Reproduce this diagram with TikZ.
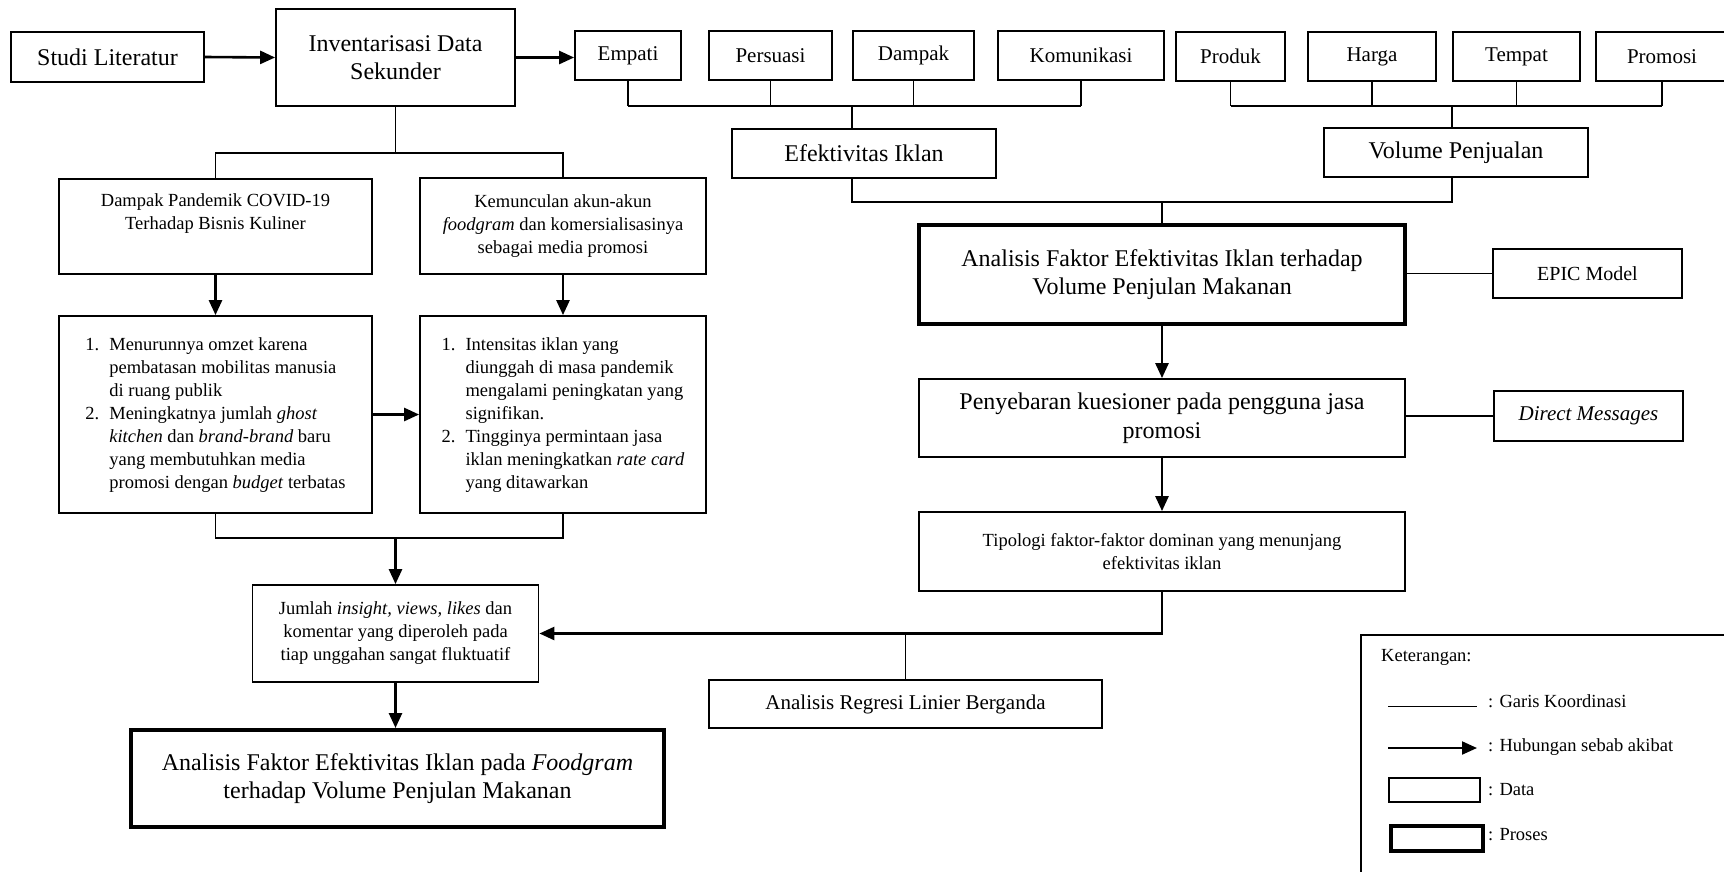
\documentclass[tikz,border=0pt]{standalone}
\usepackage{fontspec}
\setmainfont{Liberation Serif}
\usetikzlibrary{arrows.meta}

\begin{document}
\begin{tikzpicture}[x=1pt,y=-1pt,
    kotak/.style={draw,line width=1.8pt,inner sep=0pt,align=center,font=\fontsize{24}{28.5}\selectfont},
    kotaktebal/.style={kotak,line width=4pt},
    kecil/.style={font=\fontsize{21}{25}\selectfont},
    sedang/.style={font=\fontsize{18.5}{23}\selectfont},
    ket/.style={anchor=west,inner sep=0pt,font=\fontsize{18.5}{22}\selectfont},
    garis/.style={line width=1.2pt},
    panah/.style={line width=2.6pt,-{Triangle[length=15pt,width=13pt]}}]
    \useasboundingbox (0,0) rectangle (1724,871);

    \coordinate (busL) at (852,106);
    \coordinate (busR) at (1452,106);
    \coordinate (busB) at (1162,202);
    \coordinate (cabang) at (395.5,153);
    \coordinate (gabung) at (395.5,538);

    \node [kotak,minimum width=193,minimum height=50] (studi) at (107.5,57) {Studi Literatur};
    \node [kotak,minimum width=239,minimum height=97] (inv) at (395.5,57.5) {Inventarisasi Data\\Sekunder};
    \draw [panah] (studi.east) -- (inv.west);

    \foreach \nama/\cx/\lebar/\teks in {empati/628/106/Empati,persuasi/770.5/123/Persuasi,dampak/913.5/121/Dampak,komunikasi/1081/166/Komunikasi} {
        \node [kotak,kecil,minimum width=\lebar,minimum height=49] (\nama) at (\cx,55.5) {\teks};
        \draw [garis] (\nama.south) -- (\nama.south |- busL);
    }
    \foreach \nama/\cx/\lebar/\teks in {produk/1230.5/109/Produk,harga/1372/128/Harga,tempat/1516.5/127/Tempat,promosi/1662/132/Promosi} {
        \node [kotak,kecil,minimum width=\lebar,minimum height=49] (\nama) at (\cx,56.5) {\teks};
        \draw [garis] (\nama.south) -- (\nama.south |- busR);
    }
    \draw [panah] (inv.east) -- (inv.east -| empati.west);
    \draw [garis] (empati.south |- busL) -- (komunikasi.south |- busL);
    \draw [garis] (produk.south |- busR) -- (promosi.south |- busR);

    \node [kotak,minimum width=264,minimum height=49] (eff) at (864,153.5) {Efektivitas Iklan};
    \node [kotak,minimum width=264,minimum height=49] (vol) at (1456,152.5) {Volume Penjualan};
    \draw [garis] (busL) -- (busL |- eff.north);
    \draw [garis] (busR) -- (busR |- vol.north);
    \draw [garis] (busL |- eff.south) |- (busR |- busB) -- (busR |- vol.south);

    \node [kotaktebal,minimum width=486,minimum height=99] (analisis) at (1162,274.5) {Analisis Faktor Efektivitas Iklan terhadap\\Volume Penjulan Makanan};
    \draw [garis] (busB) -- (analisis.north);
    \node [kotak,minimum width=189,minimum height=49,font=\fontsize{20}{24}\selectfont] (epic) at (1587.5,273.5) {EPIC Model};
    \draw [garis] (epic.west -| analisis.east) -- (epic.west);

    \node [kotak,minimum width=486,minimum height=78] (sebar) at (1162,418) {Penyebaran kuesioner pada pengguna jasa\\promosi};
    \draw [panah] (analisis.south) -- (sebar.north);
    \node [kotak,kecil,minimum width=189,minimum height=50] (dm) at (1588.5,416) {\textit{Direct Messages}};
    \draw [garis] (dm.west -| sebar.east) -- (dm.west);

    \node [kotak,sedang,minimum width=486,minimum height=79] (tipologi) at (1162,551.5) {Tipologi faktor-faktor dominan yang menunjang\\efektivitas iklan};
    \draw [panah] (sebar.south) -- (tipologi.north);

    \node [kotak,minimum width=313,minimum height=95,sedang] (pandemi) at (215.5,226.5) {Dampak Pandemik COVID-19\\Terhadap Bisnis Kuliner\\\strut};
    \node [kotak,minimum width=286,minimum height=96,sedang] (muncul) at (563,226) {Kemunculan akun-akun\\\textit{foodgram} dan komersialisasinya\\sebagai media promosi};
    \draw [garis] (inv.south) -- (cabang);
    \draw [garis] (pandemi.north) |- (cabang) -| (muncul.north);

    \node [kotak,minimum width=313,minimum height=197,sedang] (daftarA) at (215.5,414.5) {%
        \begin{tabular}{@{}l@{\hspace{10pt}}l@{}}
        1. & Menurunnya omzet karena\\
           & pembatasan mobilitas manusia\\
           & di ruang publik\\
        2. & Meningkatnya jumlah \textit{ghost}\\
           & \textit{kitchen} dan \textit{brand-brand} baru\\
           & yang membutuhkan media\\
           & promosi dengan \textit{budget} terbatas
        \end{tabular}};
    \node [kotak,minimum width=286,minimum height=197,sedang] (daftarB) at (563,414.5) {%
        \begin{tabular}{@{}l@{\hspace{10pt}}l@{}}
        1. & Intensitas iklan yang\\
           & diunggah di masa pandemik\\
           & mengalami peningkatan yang\\
           & signifikan.\\
        2. & Tingginya permintaan jasa\\
           & iklan meningkatkan \textit{rate card}\\
           & yang ditawarkan
        \end{tabular}};
    \draw [panah] (pandemi.south) -- (daftarA.north);
    \draw [panah] (muncul.south) -- (daftarB.north);
    \draw [panah] (daftarA.east) -- (daftarB.west);
    \draw [garis] (daftarA.south) |- (gabung) -| (daftarB.south);

    \node [kotak,minimum width=286,minimum height=97,sedang] (jumlah) at (395.5,633.5) {Jumlah \textit{insight, views, likes} dan\\komentar yang diperoleh pada\\tiap unggahan sangat fluktuatif};
    \draw [panah] (gabung) -- (jumlah.north);
    \draw [panah] (tipologi.south) |- (jumlah.east);

    \node [kotak,kecil,minimum width=393,minimum height=48] (regresi) at (905.5,704) {Analisis Regresi Linier Berganda};
    \draw [garis] (regresi.north) -- (regresi.north |- jumlah.east);

    \node [kotaktebal,minimum width=533,minimum height=97] (akhir) at (397.5,778.5) {Analisis Faktor Efektivitas Iklan pada \textit{Foodgram}\\terhadap Volume Penjulan Makanan};
    \draw [panah] (jumlah.south) -- (jumlah.south |- akhir.north);

    % keterangan
    \node [kotak,anchor=north west,minimum width=371,minimum height=247] (legenda) at (1360,634) {};
    \node [ket] (judul) at (1381,657) {Keterangan:};
    \coordinate (g1) at (1388,706);
    \coordinate (g2) at (1477,706);
    \draw [line width=1pt] (g1) -- (g2);
    \node [ket] (tgaris) at (1488,701) {: Garis Koordinasi};
    \coordinate (p1) at (1388,748);
    \coordinate (p2) at (1477,748);
    \draw [panah,line width=2pt] (p1) -- (p2);
    \node [ket] (tpanah) at (1488,747) {: Hubungan sebab akibat};
    \node [kotak,minimum width=91,minimum height=24] (kdata) at (1434.5,790) {};
    \node [ket] (tdata) at (1488,790) {: Data};
    \node [kotaktebal,minimum width=92,minimum height=25] (kproses) at (1437,838.5) {};
    \node [ket] (tproses) at (1488,835) {: Proses};
\end{tikzpicture}
\end{document}
